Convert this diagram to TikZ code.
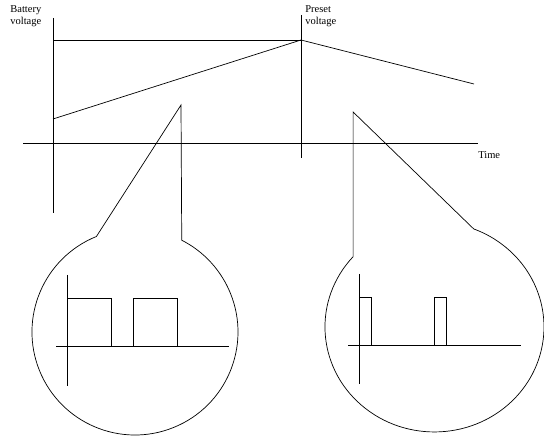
\documentclass[tikz,border=0pt]{standalone}
\usepackage{fontspec}
\setmainfont{Liberation Serif}
\tikzset{
    lbl/.style={text=black, inner sep=0pt, align=left, font=\fontsize{10.5}{12}\selectfont},
    wave/.style={line width=0.7pt},
}
\begin{document}
\begin{tikzpicture}[x=1pt, y=1pt, line width=0.7pt]
    \useasboundingbox (0, 0) rectangle (544, 436);
    % main plot
    \draw (53, 418) -- (53, 223);
    \draw (23, 293) -- (478, 293);
    \draw (301, 421) -- (301, 278);
    \draw (53, 396) -- (301, 396);
    \draw[wave] (53, 317) -- (301, 396) -- (474, 352);

    \node[lbl, anchor=west] (battery) at (10, 420) {Battery\\voltage};
    \node[lbl, anchor=west] (preset) at (305, 420) {Preset\\voltage};
    \node[lbl, anchor=west] (time) at (478, 281) {Time};

    % left callout
    \draw (181, 331) -- (96.4, 199.5) arc[start angle=112, end angle=423, radius=103] -- cycle;
    \draw (67, 161) -- (67, 50);
    \draw (56, 90) -- (229, 90);
    \draw[wave] (67, 138) -- (111, 138) -- (111, 90);
    \draw[wave] (133, 90) -- (133, 138) -- (177, 138) -- (177, 90);

    % right callout
    \draw (353.1, 324) -- (353.1, 179.3) arc[start angle=138, end angle=429, x radius=109.5, y radius=105] -- cycle;
    \draw (359, 162) -- (359, 52);
    \draw (348, 91) -- (521, 91);
    \draw[wave] (359, 139) -- (371, 139) -- (371, 91);
    \draw[wave] (434, 91) -- (434, 139) -- (446, 139) -- (446, 91);

\end{tikzpicture}
\end{document}
